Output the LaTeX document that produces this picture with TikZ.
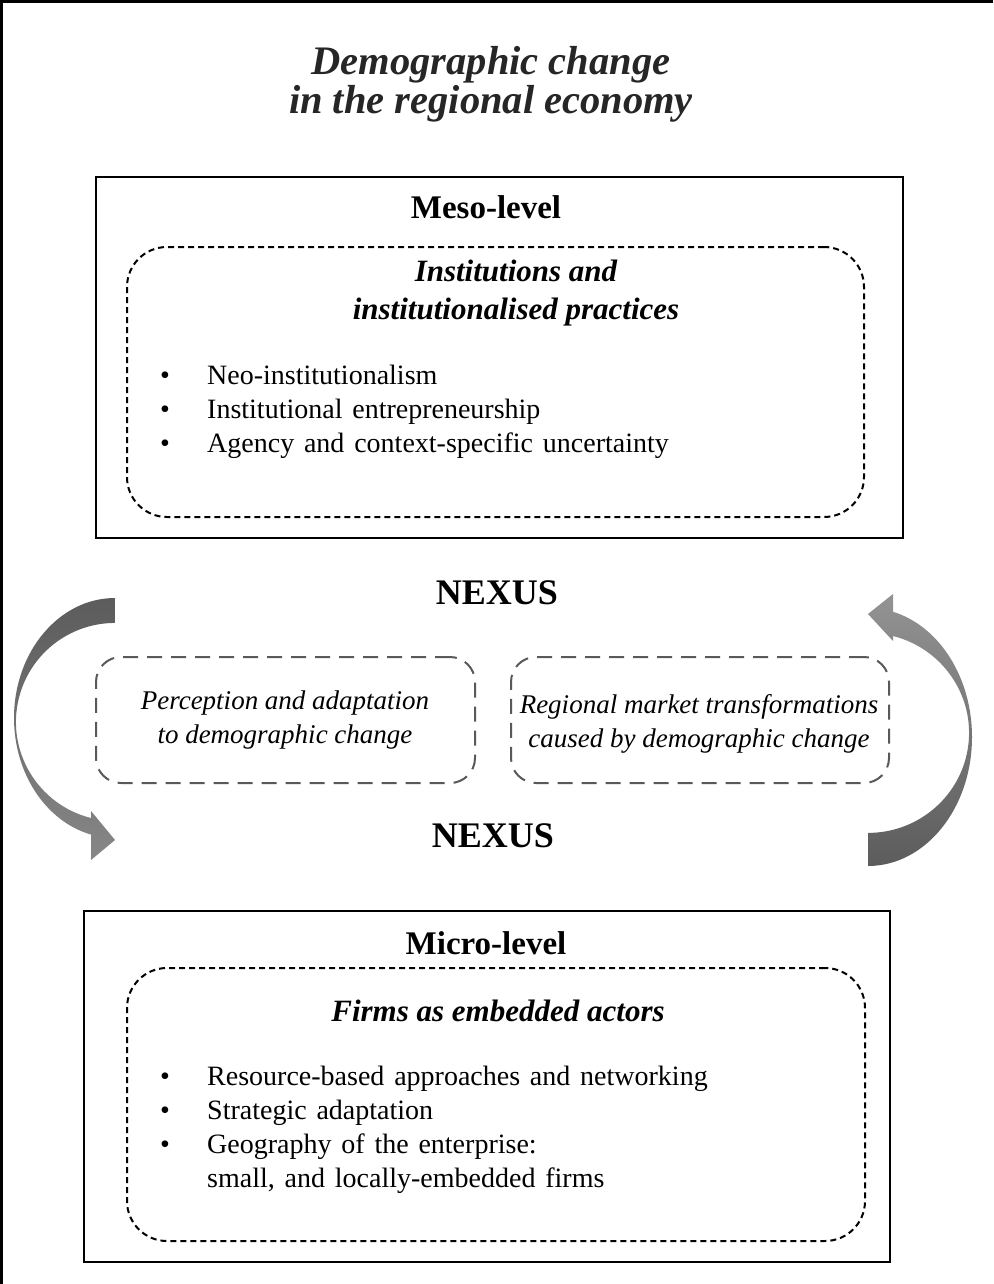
\documentclass[tikz,border=0pt]{standalone}
\usepackage{fontspec}
\setmainfont{Liberation Serif}
\usetikzlibrary{arrows.meta}
\definecolor{nexusgray}{HTML}{595959}
\definecolor{arrowdark}{HTML}{5C5C5C}
\definecolor{arrowlight}{HTML}{878787}
\tikzset{
    levelbox/.style={rectangle, draw=black, line width=2.2pt},
    theorybox/.style={rectangle, draw=black, line width=2pt,
        dash pattern=on 6pt off 4pt, rounded corners=40pt},
    nexusbox/.style={rectangle, draw=nexusgray, line width=2pt,
        dash pattern=on 15pt off 9pt, rounded corners=25pt},
    levelfont/.style={font=\fontsize{33}{36}\selectfont\bfseries},
    headfont/.style={font=\fontsize{31}{38}\selectfont\bfseries\itshape, align=center},
    listfont/.style={font=\fontsize{28}{34}\selectfont, anchor=west, inner sep=0pt},
    nexusfont/.style={font=\fontsize{27}{34}\selectfont\itshape, align=center},
}
\newcommand{\bulletrow}{\makebox[47pt][l]{\textbullet}}
\newcommand{\widespace}{\spaceskip=0.35em\relax}
\begin{document}
\begin{tikzpicture}[x=1pt, y=-1pt]
        \useasboundingbox (0,0) rectangle (993,1284);
        \fill[white] (0,0) rectangle (993,1284);
        % frame, only top and left edges are visible
        \draw[line width=2.5pt] (993,1.5) -- (1.5,1.5) -- (1.5,1284);

        \node (title) at(491,84) [
            font=\fontsize{40.5}{39}\selectfont\bfseries\itshape,
            align=center, text=black!85,
        ] {Demographic change\\in the regional economy};

        % meso level
        \node (meso) at(499.5,357.5) [
            levelbox, minimum width=807pt, minimum height=361pt,
        ] {};
        \node (mesotheory) at(495.5,382) [
            theorybox, minimum width=737pt, minimum height=270pt,
        ] {};
        \node (mesolabel) at(486,207) [levelfont] {Meso-level};
        \node (mesohead) at(516,293) [headfont]
            {Institutions and\\institutionalised practices};
        \node (mesolist) at(160,412) [listfont] {\widespace
            \begin{tabular}{@{}l@{}l@{}}
            \bulletrow & Neo-institutionalism\\
            \bulletrow & Institutional entrepreneurship\\
            \bulletrow & Agency and context-specific uncertainty\\
            \end{tabular}};

        % nexus
        \node (nexustop) at(497,593) [font=\fontsize{36}{40}\selectfont\bfseries] {NEXUS};
        \node (nexusbottom) at(493,836) [font=\fontsize{36}{40}\selectfont\bfseries] {NEXUS};
        \node (perception) at(285.5,720) [
            nexusbox, minimum width=379pt, minimum height=126pt,
        ] {};
        \node (market) at(700,720) [
            nexusbox, minimum width=378pt, minimum height=126pt,
        ] {};
        \node (perceptiontext) at(285,720) [nexusfont]
            {Perception and adaptation\\to demographic change};
        \node (markettext) at(699,724) [nexusfont]
            {Regional market transformations\\caused by demographic change};

        % curved block arrows
        \shade[top color=arrowdark, bottom color=arrowlight]
            (115,598) arc[start angle=90, end angle=256.3, x radius=101pt, y radius=120pt]
            -- (91,860) -- (115,840) -- (91,811) -- (91,818)
            arc[start angle=256, end angle=90, x radius=99pt, y radius=99pt]
            -- cycle;
        \shade[top color=arrowlight!90, bottom color=arrowdark]
            (868,866) arc[start angle=-90, end angle=76, x radius=104pt, y radius=129pt]
            -- (893,594) -- (868,614) -- (893,641) -- (893,636)
            arc[start angle=75.7, end angle=-90, x radius=101pt, y radius=100pt]
            -- cycle;

        % micro level
        \node (micro) at(487,1086.5) [
            levelbox, minimum width=806pt, minimum height=351pt,
        ] {};
        \node (microtheory) at(496,1104.5) [
            theorybox, minimum width=738pt, minimum height=273pt,
        ] {};
        \node (microlabel) at(486,943) [levelfont] {Micro-level};
        \node (microhead) at(498,1011) [headfont] {Firms as embedded actors};
        \node (microlist) at(160,1130) [listfont] {\widespace
            \begin{tabular}{@{}l@{}l@{}}
            \bulletrow & Resource-based approaches and networking\\
            \bulletrow & Strategic adaptation\\
            \bulletrow & Geography of the enterprise:\\
                       & small, and locally-embedded firms\\
            \end{tabular}};
    \end{tikzpicture}
\end{document}
